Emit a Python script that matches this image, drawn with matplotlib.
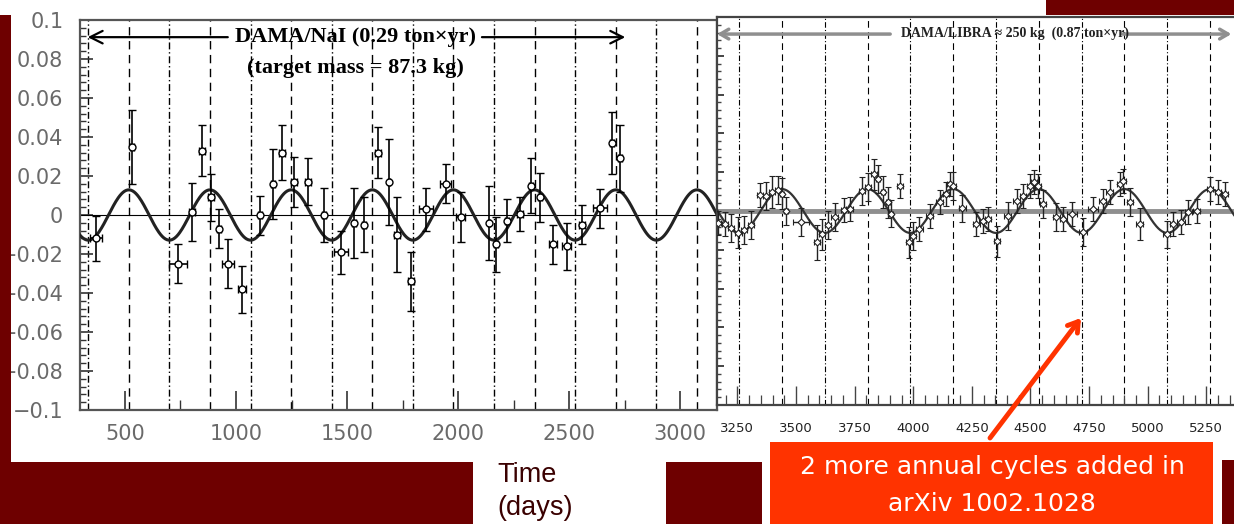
import numpy as np
import matplotlib
matplotlib.use("Agg")
import matplotlib.pyplot as plt
from matplotlib.patches import Rectangle
from matplotlib.ticker import FixedLocator, MultipleLocator, NullFormatter

W, H = 1234, 524

# DAMA/NaI residual rate
nai_day = [370, 532, 739, 802, 847, 887, 923, 964, 1027, 1108, 1166, 1207,
           1261, 1324, 1396, 1472, 1531, 1576, 1639, 1689, 1725, 1788, 1855,
           1945, 2012, 2139, 2170, 2219, 2278, 2328, 2368, 2427, 2489, 2557,
           2638, 2692, 2728]
nai_res = [-0.012, 0.035, -0.025, 0.0015, 0.033, 0.009, -0.007, -0.025, -0.038,
           0.0, 0.016, 0.032, 0.017, 0.017, 0.0, -0.019, -0.004, -0.005, 0.032,
           0.017, -0.010, -0.034, 0.003, 0.016, -0.001, -0.004, -0.015, -0.003,
           0.0005, 0.015, 0.009, -0.015, -0.016, -0.005, 0.0035, 0.037, 0.029]
nai_err = [0.0115, 0.019, 0.010, 0.015, 0.013, 0.012, 0.010, 0.0125, 0.012,
           0.010, 0.018, 0.014, 0.013, 0.012, 0.014, 0.011, 0.018, 0.014, 0.013,
           0.022, 0.019, 0.015, 0.011, 0.010, 0.013, 0.019, 0.014, 0.011, 0.0085,
           0.014, 0.0125, 0.010, 0.012, 0.010, 0.010, 0.016, 0.017]
nai_bin = [25, 10, 40, 15, 15, 15, 10, 25, 20, 10, 10, 15, 15, 15, 10, 30, 10,
           10, 15, 5, 15, 15, 30, 25, 20, 5, 10, 10, 15, 10, 10, 20, 20, 15, 30,
           8, 8]

# DAMA/LIBRA residual rate
lib_day = [3167, 3197, 3223, 3253, 3278, 3308, 3346, 3372, 3398, 3423,
           3440, 3457, 3521, 3590, 3611, 3636, 3666, 3705, 3730, 3781,
           3807, 3833, 3850, 3871, 3892, 3905, 3943, 3982, 3999, 4025,
           4071, 4114, 4140, 4157, 4170, 4208, 4268, 4297, 4319, 4357,
           4404, 4442, 4468, 4498, 4515, 4532, 4553, 4609, 4639, 4677,
           4724, 4767, 4809, 4839, 4882, 4894, 4924, 4967, 5082, 5108,
           5142, 5172, 5210, 5265, 5300, 5329]
lib_res = [-0.0062, -0.0067, -0.0088, -0.0113, -0.0098, -0.0072, 0.0082, 0.0077, 0.0098, 0.0108,
           0.0088, 0.0, -0.0057, -0.016, -0.0119, -0.0072, -0.0031, 0.0005, 0.001, 0.0103,
           0.0124, 0.019, 0.0165, 0.0098, 0.0046, -0.0015, 0.0129, -0.016, -0.0129, -0.0093,
           -0.0026, 0.0046, 0.0088, 0.0139, 0.0129, 0.0015, -0.0067, -0.0052, -0.0041, -0.0155,
           -0.0026, 0.0052, 0.0077, 0.0129, 0.015, 0.0129, 0.0036, -0.0031, -0.0041, -0.0015,
           -0.0108, 0.001, 0.0052, 0.0098, 0.0139, 0.0155, 0.0046, -0.0067, -0.0119, -0.0067,
           -0.0057, -0.0005, 0.0, 0.0113, 0.0098, 0.0088]
lib_err = [0.006, 0.006, 0.007, 0.008, 0.007, 0.007, 0.006, 0.007, 0.008, 0.007,
           0.008, 0.007, 0.007, 0.009, 0.008, 0.007, 0.007, 0.006, 0.006, 0.007,
           0.007, 0.008, 0.007, 0.008, 0.008, 0.007, 0.006, 0.008, 0.007, 0.006,
           0.006, 0.006, 0.006, 0.006, 0.007, 0.007, 0.006, 0.006, 0.006, 0.008,
           0.007, 0.006, 0.006, 0.006, 0.006, 0.006, 0.007, 0.007, 0.006, 0.006,
           0.007, 0.006, 0.006, 0.006, 0.006, 0.006, 0.007, 0.008, 0.007, 0.006,
           0.006, 0.006, 0.006, 0.006, 0.006, 0.006]
lib_bin = [12, 12, 12, 15, 12, 12, 12, 12, 12, 12,
           10, 10, 35, 12, 12, 12, 15, 15, 15, 12,
           12, 12, 10, 10, 10, 10, 12, 12, 12, 15,
           15, 15, 12, 12, 12, 15, 15, 15, 12, 12,
           15, 15, 12, 12, 12, 12, 12, 15, 15, 20,
           15, 20, 15, 15, 12, 12, 12, 15, 15, 15,
           15, 15, 15, 12, 12, 12]

# fitted modulation A*cos(2pi(t - t0)/T)
nai_amp, lib_amp = 0.0129, 0.0113
period, t0 = 365.25, 152.5

nai_xticks = [500, 1000, 1500, 2000, 2500, 3000]
lib_xticks = [3250, 3500, 3750, 4000, 4250, 4500, 4750, 5000, 5250]
yticks = [-0.1, -0.08, -0.06, -0.04, -0.02, 0, 0.02, 0.04, 0.06, 0.08, 0.1]
ylabels = ["\u22120.1", "\u22120.08", "\u22120.06", "\u22120.04", "\u22120.02",
           "0", "0.02", "0.04", "0.06", "0.08", "0.1"]

DARKRED = "#6e0000"
ORANGE = "#ff3300"


def box(x0, y0, x1, y1):
    return [x0 / W, 1 - y1 / H, (x1 - x0) / W, (y1 - y0) / H]


def guides(ax, lo, hi, lw):
    k = np.arange(-2, 20)
    for t in t0 + k * period:
        if lo < t < hi:
            ax.axvline(t, color="black", lw=lw, ls=(0, (6, 4)), zorder=1)
    for t in t0 + (k + 0.5) * period:
        if lo < t < hi:
            ax.axvline(t, color="black", lw=lw, ls=(0, (5, 2, 1, 2)), zorder=1)


fig = plt.figure(figsize=(W / 100, H / 100), dpi=100)
fig.patch.set_facecolor("white")

# ---- left panel: DAMA/NaI
ax1 = fig.add_axes(box(80, 20, 717, 410))
ax1.set_xlim(298, 3165)
ax1.set_ylim(-0.1, 0.1)
guides(ax1, 298, 3165, 1.0)
ax1.axhline(0, color="black", lw=0.8, zorder=2)
t = np.linspace(298, 3165, 800)
ax1.plot(t, nai_amp * np.cos(2 * np.pi * (t - t0) / period), color="#222222", lw=2.2, zorder=3)
ax1.errorbar(nai_day, nai_res, yerr=nai_err, xerr=nai_bin, fmt="o", ms=5,
             mfc="white", mec="black", mew=1.0, ecolor="black", elinewidth=1.2,
             capsize=3, capthick=1.2, zorder=4)
ax1.xaxis.set_major_locator(FixedLocator(nai_xticks))
ax1.xaxis.set_minor_locator(MultipleLocator(250))
ax1.yaxis.set_major_locator(FixedLocator(yticks))
ax1.set_yticklabels(ylabels)
ax1.yaxis.set_minor_locator(MultipleLocator(0.004))
ax1.tick_params(axis="both", which="both", direction="in", color="#333333",
                labelcolor="#6a6a6a", labelsize=15)
ax1.tick_params(axis="x", which="major", length=14, width=1.2, pad=10)
ax1.tick_params(axis="x", which="minor", length=7, width=1.0)
ax1.tick_params(axis="y", which="major", length=9, width=1.2, pad=12)
ax1.tick_params(axis="y", which="minor", length=4, width=1.0)
for s in ax1.spines.values():
    s.set_color("#555555")
    s.set_linewidth(1.6)
ax1.text(0.432, 0.956, "DAMA/NaI (0.29 ton\u00d7yr)", transform=ax1.transAxes,
         ha="center", va="center", family="Liberation Serif", weight="bold",
         fontsize=16, zorder=5)
ax1.text(0.432, 0.877, "(target mass = 87.3 kg)", transform=ax1.transAxes,
         ha="center", va="center", family="Liberation Serif", weight="bold",
         fontsize=16, zorder=5)
arrow_k = dict(arrowstyle="->,head_length=0.9,head_width=0.45", color="black", lw=1.6,
               shrinkA=0, shrinkB=0)
ax1.annotate("", xy=(0.012, 0.956), xytext=(0.232, 0.956), xycoords="axes fraction",
             textcoords="axes fraction", arrowprops=arrow_k)
ax1.annotate("", xy=(0.856, 0.956), xytext=(0.631, 0.956), xycoords="axes fraction",
             textcoords="axes fraction", arrowprops=arrow_k)

# ---- right panel: DAMA/LIBRA
ax2 = fig.add_axes(box(717, 17, 1234, 405))
ax2.set_xlim(3163, 5368)
ax2.set_ylim(-0.1, 0.1)
guides(ax2, 3163, 5368, 0.8)
ax2.axhline(0, color="#8f8f8f", lw=3.5, zorder=2)
t = np.linspace(3163, 5368, 800)
ax2.plot(t, lib_amp * np.cos(2 * np.pi * (t - t0) / period), color="#333333", lw=1.6, zorder=3)
ax2.errorbar(lib_day, lib_res, yerr=lib_err, xerr=lib_bin, fmt="D", ms=3.5,
             mfc="white", mec="#222222", mew=0.8, ecolor="#222222", elinewidth=1.0,
             capsize=2, capthick=1.0, zorder=4)
ax2.xaxis.set_major_locator(FixedLocator(lib_xticks))
ax2.xaxis.set_minor_locator(MultipleLocator(50))
ax2.yaxis.set_major_locator(FixedLocator(yticks))
ax2.yaxis.set_minor_locator(MultipleLocator(0.004))
ax2.yaxis.set_major_formatter(NullFormatter())
ax2.tick_params(axis="both", which="both", direction="in", color="#444444")
ax2.tick_params(axis="x", which="major", length=14, width=1.0, pad=12,
                labelsize=9.5, labelcolor="#222222")
ax2.tick_params(axis="x", which="minor", length=7, width=0.9)
ax2.tick_params(axis="y", which="major", length=5, width=1.4)
ax2.tick_params(axis="y", which="minor", length=3, width=1.0)
for s in ax2.spines.values():
    s.set_color("#444444")
    s.set_linewidth(1.6)
ax2.spines["right"].set_visible(False)
ax2.text(0.576, 0.959, "DAMA/LIBRA \u2248 250 kg  (0.87 ton\u00d7yr)", transform=ax2.transAxes,
         ha="center", va="center", family="Liberation Serif", weight="bold",
         fontsize=10, color="#222222", zorder=5)
arrow_g = dict(arrowstyle="->,head_length=0.6,head_width=0.35", color="#8f8f8f", lw=2.5,
               shrinkA=0, shrinkB=0)
ax2.annotate("", xy=(0.0, 0.956), xytext=(0.335, 0.956), xycoords="axes fraction",
             textcoords="axes fraction", arrowprops=arrow_g)
ax2.annotate("", xy=(0.995, 0.956), xytext=(0.785, 0.956), xycoords="axes fraction",
             textcoords="axes fraction", arrowprops=arrow_g)

# ---- slide decoration on top
ov = fig.add_axes([0, 0, 1, 1], zorder=10)
ov.set_xlim(0, W)
ov.set_ylim(H, 0)
ov.axis("off")
ov.patch.set_alpha(0)
for x0, y0, x1, y1 in [(0, 15, 11, 524), (0, 462, 473, 524), (666, 462, 762, 524),
                       (1222, 460, 1234, 524), (1046, 0, 1234, 15)]:
    ov.add_patch(Rectangle((x0, y0), x1 - x0, y1 - y0, color=DARKRED, lw=0))
ov.add_patch(Rectangle((770, 442), 443, 82, color=ORANGE, lw=0))
ov.text(497, 475, "Time", ha="left", va="center", fontsize=19.5,
        family="Liberation Sans", color="#3a0000")
ov.text(497, 508, "(days)", ha="left", va="center", fontsize=19.5,
        family="Liberation Sans", color="#3a0000")
ov.text(992, 467, "2 more annual cycles added in", ha="center", va="center",
        fontsize=18, family="DejaVu Sans", color="white")
ov.text(992, 504, "arXiv 1002.1028", ha="center", va="center",
        fontsize=18, family="DejaVu Sans", color="white")
ov.annotate("", xy=(1081, 318), xytext=(990, 438),
            arrowprops=dict(arrowstyle="->,head_length=0.7,head_width=0.45",
                            color=ORANGE, lw=3.5, shrinkA=0, shrinkB=0))

fig.savefig("out.png", dpi=100)
